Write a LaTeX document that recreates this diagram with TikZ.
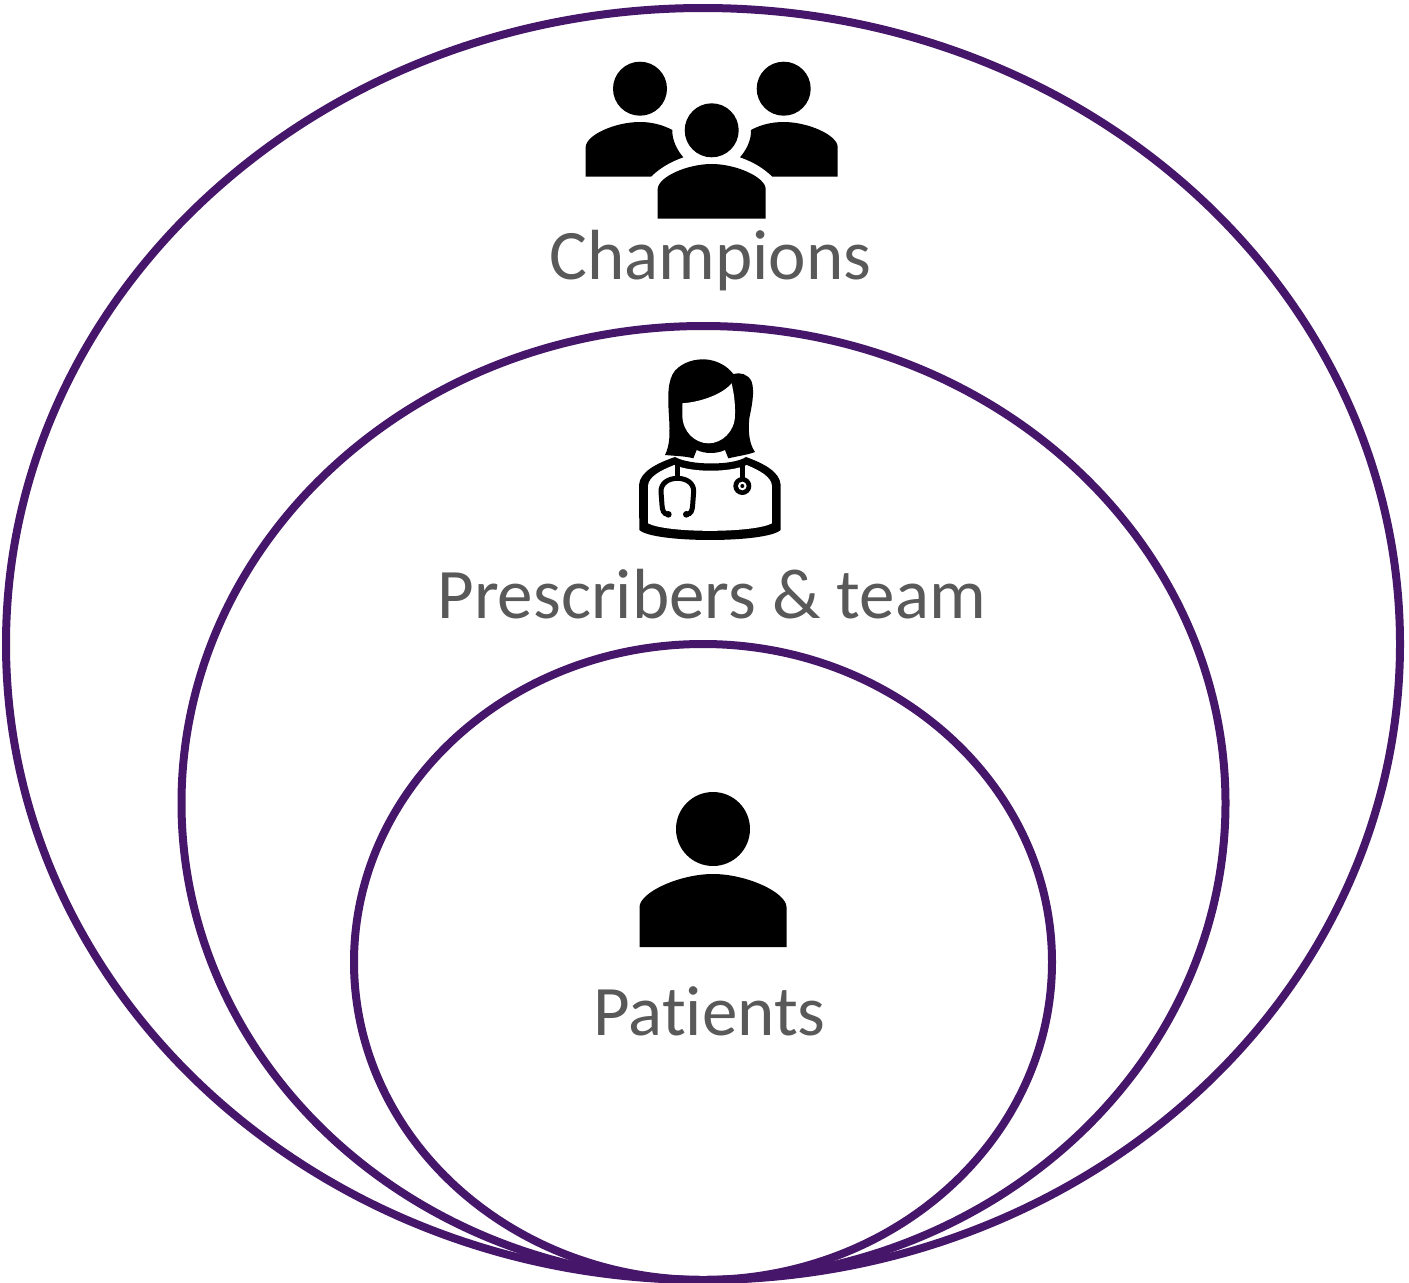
\documentclass[tikz,border=0pt]{standalone}
\usepackage{fontspec}
\setmainfont{Carlito}[Ligatures=NoCommon]
\definecolor{ringc}{HTML}{46166B}
\definecolor{labelc}{HTML}{595959}
\tikzset{ring/.style={draw=ringc,line width=8pt},
 lab/.style={text=labelc,font=\fontsize{71}{75}\selectfont,anchor=base,inner sep=0pt}}
\begin{document}
\begin{tikzpicture}[x=1pt,y=-1pt]
\useasboundingbox (0,0) rectangle (1409,1283);
\fill[white] (0,0) rectangle (1409,1283);
\draw[ring] (703,644) ellipse [x radius=697,y radius=636];
\draw[ring] (703.5,803) ellipse [x radius=522,y radius=477];
\draw[ring] (703,962) ellipse [x radius=349,y radius=318];
% group icon
\fill (640,88.7) circle (27);
\fill (783.7,88.7) circle (27);
\fill (711.7,130.3) circle (27);
\fill (585.7,176.7) -- (585.7,147) .. controls (586,135) and (615,122) .. (640,122)
  .. controls (652,122) and (663,125) .. (672.3,130)
  .. controls (672,140) and (677,150) .. (683.3,157.3)
  .. controls (670,162) and (660,168) .. (651,176.7) -- cycle;
\fill (837.7,176.7) -- (837.7,147) .. controls (837.4,135) and (808,122) .. (783.7,122)
  .. controls (771,122) and (760,125) .. (751,130)
  .. controls (751.4,140) and (746.4,150) .. (740,157.3)
  .. controls (753.4,162) and (763.4,168) .. (772.4,176.7) -- cycle;
\fill (657.7,218.7) -- (657.7,189) .. controls (658,177) and (687,164) .. (711.7,164)
  .. controls (736,164) and (765.4,177) .. (765.7,189) -- (765.7,218.7) -- cycle;
% doctor icon
\begin{scope}[shift={(620,350)},x=0.3333pt,y=-0.3333pt]
 % hair
 \fill (135,315) .. controls (150,285) and (150,250) .. (147,200)
   .. controls (143,140) and (142,90) .. (165,62)
   .. controls (190,35) and (225,27) .. (255,28)
   .. controls (290,30) and (322,48) .. (340,72)
   .. controls (360,66) and (385,72) .. (395,95)
   .. controls (405,125) and (395,170) .. (388,205)
   .. controls (383,250) and (390,285) .. (405,306)
   .. controls (385,314) and (355,318) .. (325,325)
   -- (315,300) .. controls (290,312) and (255,312) .. (230,300)
   -- (220,325) .. controls (195,318) and (165,318) .. (135,315) -- cycle;
 % body
 \fill (165,321) .. controls (110,340) and (60,365) .. (57,405)
   -- (58,540) .. controls (100,580) and (440,580) .. (482,540)
   -- (482,405) .. controls (480,365) and (430,340) .. (378,321)
   .. controls (340,347) and (210,347) .. (165,321) -- cycle;
 % white inner body
 \fill[white] (163,345) .. controls (120,362) and (86,380) .. (84,408)
   -- (84,520) .. controls (140,550) and (400,550) .. (456,520)
   -- (456,408) .. controls (454,380) and (420,362) .. (380,345)
   .. controls (330,368) and (215,368) .. (163,345) -- cycle;
 % face
 \fill[white] (187,160) .. controls (250,155) and (310,130) .. (335,100)
   .. controls (340,125) and (346,150) .. (345,195)
   .. controls (345,245) and (305,280) .. (266,280)
   .. controls (225,280) and (187,245) .. (187,195) -- cycle;
 % stethoscope
 \draw[line width=4.5pt] (172,340) -- (172,385);
 \draw[line width=4.5pt] (367,345) -- (367,385);
 \draw[line width=5pt] (145,493) .. controls (130,493) and (127,480) .. (126,465)
   -- (123,425) .. controls (122,400) and (145,385) .. (172,385)
   .. controls (200,385) and (222,400) .. (221,425)
   -- (218,465) .. controls (217,480) and (214,493) .. (199,493);
 \fill (145,493) circle (10);
 \fill (199,493) circle (10);
 \fill (367,408) circle (27);
 \fill[white] (367,408) circle (13);
 \fill (367,408) circle (6);
\end{scope}
% patient icon
\fill (713,829) circle (37);
\fill (639.5,947) -- (639.5,907) .. controls (640,892) and (680,874) .. (713,874)
  .. controls (746,874) and (786,892) .. (786.5,907) -- (786.5,947) -- cycle;
\node[lab] (champions) at (710.5,279.5) {Champions};
\node[lab] (prescribers) at (711.5,618) {Prescribers \& team};
\node[lab] (patients) at (709.5,1035.5) {Patients};
\end{tikzpicture}
\end{document}
